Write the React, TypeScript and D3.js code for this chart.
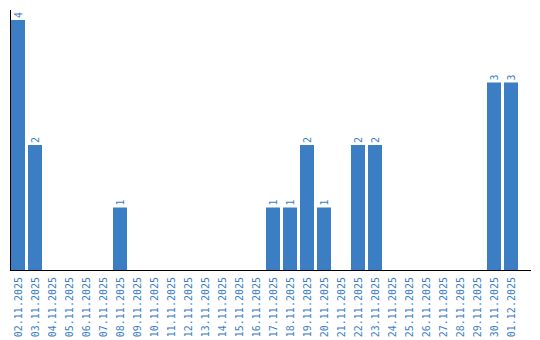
import React from "react";
import * as d3 from "d3";

const categories = [
  "02.11.2025","03.11.2025","04.11.2025","05.11.2025","06.11.2025","07.11.2025",
  "08.11.2025","09.11.2025","10.11.2025","11.11.2025","12.11.2025","13.11.2025",
  "14.11.2025","15.11.2025","16.11.2025","17.11.2025","18.11.2025","19.11.2025",
  "20.11.2025","21.11.2025","22.11.2025","23.11.2025","24.11.2025","25.11.2025",
  "26.11.2025","27.11.2025","28.11.2025","29.11.2025","30.11.2025","01.12.2025",
];
const values = [4,2,0,0,0,0,1,0,0,0,0,0,0,0,0,1,1,2,1,0,2,2,0,0,0,0,0,0,3,3];

const W = 540, H = 340;
const BLUE = "#3b7ec4";
const FONT = "'DejaVu Sans Mono', monospace";

export default function App() {
  const x = d3.scaleBand<string>().domain(categories).range([9.5, 519.5]).paddingInner(3 / 17).paddingOuter(1.5 / 17 / 2);
  const xs = d3.scaleBand<string>().domain(categories).range([9.5, 519.5]).padding(0);
  const y = d3.scaleLinear().domain([0, 4]).range([270, 20]);
  const step = xs.step();
  const bw = step - 3;
  return (
    <svg width={W} height={H} style={{ position: "absolute", left: 0, top: 0 }}>
      {categories.map((c, i) => {
        const x0 = (xs(c) as number) + 1.5;
        const v = values[i];
        const cx = x0 + bw / 2;
        return (
          <g key={c}>
            {v > 0 && (
              <rect x={x0} y={y(v)} width={bw} height={y(0) - y(v)} fill={BLUE} />
            )}
            {v > 0 && (
              <text
                transform={`translate(${cx},${y(v) - 2}) rotate(-90)`}
                dy="0.35em"
                fontFamily={FONT}
                fontSize={10}
                fill={BLUE}
                textAnchor="start"
              >
                {v}
              </text>
            )}
            <text
              transform={`translate(${cx},${277}) rotate(-90)`}
              dy="0.35em"
              fontFamily={FONT}
              fontSize={10}
              fill={BLUE}
              textAnchor="end"
            >
              {c}
            </text>
          </g>
        );
      })}
      <line x1={10.5} x2={10.5} y1={10} y2={270} stroke="#000" strokeWidth={1} />
      <line x1={10} x2={531} y1={270.5} y2={270.5} stroke="#000" strokeWidth={1} />
    </svg>
  );
}
